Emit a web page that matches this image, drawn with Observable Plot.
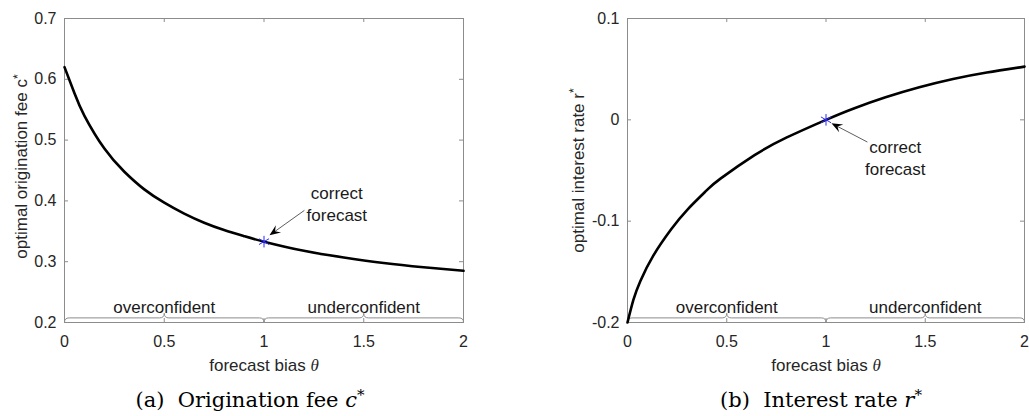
<!DOCTYPE html>
<html><head><meta charset="utf-8">
<script src="https://cdn.jsdelivr.net/npm/d3@7"></script>
<script src="https://cdn.jsdelivr.net/npm/@observablehq/plot@0.6"></script>
<style>
body{margin:0;background:#fff;}
#wrap{position:relative;width:1029px;height:416px;overflow:hidden;background:#fff;}
.panel{position:absolute;top:0;}
.cap{position:absolute;top:388px;font-family:"DejaVu Serif",serif;font-size:21px;line-height:25px;color:#000;white-space:nowrap;transform:translateX(-50%);}
.cap .sup{font-size:0.72em;position:relative;top:-0.45em;}
</style></head><body>
<div id="wrap">
  <div class="panel" id="pa" style="left:0"></div>
  <div class="panel" id="pb" style="left:514px"></div>
  <div class="cap" style="left:250px">(a)&nbsp; Origination fee <i>c</i><span class="sup">*</span></div>
  <div class="cap" style="left:821px">(b)&nbsp; Interest rate <i>r</i><span class="sup">*</span></div>
</div>
<script>
// ---- data ----
const thetaA = [0, 0.05, 0.1, 0.2, 0.3, 0.4, 0.5, 0.6, 0.7, 0.8, 0.9, 1.0, 1.2, 1.4, 1.6, 1.8, 2.0];
const feeC   = [0.620, 0.577, 0.540, 0.486, 0.448, 0.419, 0.397, 0.379, 0.364, 0.352, 0.342, 0.333, 0.318, 0.307, 0.298, 0.291, 0.285];
const thetaB = [0, 0.03, 0.065, 0.13, 0.22, 0.3, 0.4, 0.47, 0.64, 0.8, 1.0, 1.14, 1.3, 1.47, 1.64, 1.81, 2.0];
const rateR  = [-0.200, -0.1775, -0.159, -0.134, -0.108, -0.089, -0.0694, -0.0578, -0.0349, -0.0176, 0.000, 0.0112, 0.0222, 0.0321, 0.0403, 0.0467, 0.0525];

const xTicks = [0, 0.5, 1, 1.5, 2];
const xTickLabels = ["0", "0.5", "1", "1.5", "2"];
const yTicksA = [0.2, 0.3, 0.4, 0.5, 0.6, 0.7];
const yTickLabelsA = ["0.2", "0.3", "0.4", "0.5", "0.6", "0.7"];
const yTicksB = [-0.2, -0.1, 0, 0.1];
const yTickLabelsB = ["-0.2", "-0.1", "0", "0.1"];

const braceSpans = [[0, 1], [1, 2]];
const braceLabels = ["overconfident", "underconfident"];
const correctTheta = 1;
const noteText = "correct\nforecast";
// annotation anchors (data units): text centre, arrow tail, arrow tip
const noteA = [1.365, 0.397], tailA = [1.205, 0.3836], tipA = [1.03, 0.3426];
const noteB = [1.349, -0.0367], tailB = [1.211, -0.0224], tipB = [1.03, -0.0039];

const xLabel = "forecast bias θ";
const yLabelA = "optimal origination fee c*";
const yLabelB = "optimal interest rate r*";

// ---- drawing ----
const grey = "#8c8c8c";
const sans = "'Liberation Sans', Arial, sans-serif";
function lookup(vals, labels) { const m = new Map(vals.map((v, i) => [v, labels[i]])); return d => m.get(d); }

function panel(o) {
  const H = 380, mt = 18, mb = 58;
  const innerH = H - mt - mb, innerW = o.width - o.ml - o.mr;
  const tick = 4;
  const data = o.xs.map((x, i) => ({x, y: o.ys[i]}));
  const starY = o.ys[o.xs.indexOf(correctTheta)];
  const innerX = xTicks.slice(1, -1);
  const innerY = o.yTicks.slice(1, -1);
  const yMin = o.yTicks[0];

  const braces = (index, scales) => {
    const g = d3.create("svg:g").attr("fill", "none").attr("stroke", grey).attr("stroke-width", 1);
    const yb = scales.y(yMin) + 0.5, q = 4.6;
    braceSpans.forEach(([a, b]) => {
      const x0 = scales.x(a) + 0.5, x1 = scales.x(b) + 0.5, xm = (x0 + x1) / 2;
      g.append("path").attr("d",
        `M${x0},${yb}Q${x0},${yb - q} ${x0 + q},${yb - q}L${xm - q},${yb - q}Q${xm},${yb - q} ${xm},${yb - 2 * q}` +
        `Q${xm},${yb - q} ${xm + q},${yb - q}L${x1 - q},${yb - q}Q${x1},${yb - q} ${x1},${yb}`);
    });
    return g.node();
  };

  const arrow = (index, scales) => {
    const g = d3.create("svg:g");
    const tx = scales.x(o.tail[0]), ty = scales.y(o.tail[1]);
    const hx = scales.x(o.tip[0]), hy = scales.y(o.tip[1]);
    const dx = hx - tx, dy = hy - ty, len = Math.hypot(dx, dy);
    const ux = dx / len, uy = dy / len, nx = -uy, ny = ux;
    const L = 11, w = 4.5;
    g.append("line").attr("x1", tx).attr("y1", ty).attr("x2", hx - 0.6 * L * ux).attr("y2", hy - 0.6 * L * uy)
      .attr("stroke", "#333").attr("stroke-width", 0.8);
    g.append("path").attr("fill", "#000").attr("d",
      `M${hx},${hy}L${hx - L * ux + w * nx},${hy - L * uy + w * ny}L${hx - 0.62 * L * ux},${hy - 0.62 * L * uy}L${hx - L * ux - w * nx},${hy - L * uy - w * ny}Z`);
    return g.node();
  };

  const svg = Plot.plot({
    width: o.width, height: H, marginTop: mt, marginBottom: mb, marginLeft: o.ml, marginRight: o.mr,
    style: {fontFamily: sans, fontSize: "16px", color: "#262626", background: "white", overflow: "visible"},
    x: {domain: [0, 2]},
    y: {domain: [o.yTicks[0], o.yTicks[o.yTicks.length - 1]]},
    marks: [
      Plot.axisX(xTicks, {tickSize: 0, tickPadding: 13, tickFormat: lookup(xTicks, xTickLabels), label: null, fontFamily: sans}),
      Plot.axisY(o.yTicks, {tickSize: 0, tickPadding: 8, tickFormat: lookup(o.yTicks, o.yLabels), label: null, fontFamily: sans}),
      Plot.ruleX(innerX, {insetTop: innerH - tick, stroke: grey}),
      Plot.ruleX(innerX, {insetBottom: innerH - tick, stroke: grey}),
      Plot.ruleY(innerY, {insetRight: innerW - tick, stroke: grey}),
      Plot.ruleY(innerY, {insetLeft: innerW - tick, stroke: grey}),
      Plot.frame({stroke: grey}),
      braces,
      Plot.text(braceSpans, {x: d => (d[0] + d[1]) / 2, frameAnchor: "bottom", lineAnchor: "middle", dy: -15, text: (d, i) => braceLabels[i], fontSize: 17, fontFamily: sans, fill: "#1a1a1a"}),
      Plot.line(data, {x: "x", y: "y", curve: "natural", stroke: "black", strokeWidth: 2.6}),
      Plot.dot([{x: correctTheta, y: starY}], {x: "x", y: "y", symbol: "asterisk", r: 5.5, stroke: "#2a2aff", strokeWidth: 1}),
      arrow,
      Plot.text([o.note], {x: d => d[0], y: d => d[1], text: () => noteText, lineHeight: 1.3, fontSize: 17, fontFamily: sans, fill: "#1a1a1a"}),
      Plot.text([xLabel], {frameAnchor: "bottom", textAnchor: "middle", lineAnchor: "middle", dy: 43, fontSize: 17, fontFamily: sans, fill: "#262626"}),
      Plot.text([o.ylabel], {frameAnchor: "left", textAnchor: "middle", lineAnchor: "middle", dx: o.ylDx, dy: o.ylDy, rotate: -90, fontSize: 17, fontFamily: sans, fill: "#262626"})
    ]
  });
  decorate(svg);
  return svg;
}

function decorate(svg) {
  const NS = "http://www.w3.org/2000/svg";
  svg.querySelectorAll("text").forEach(t => {
    const s = t.textContent;
    if (t.querySelector("tspan")) return;
    if (s.endsWith("θ")) {
      t.textContent = s.slice(0, -1);
      const sp = document.createElementNS(NS, "tspan");
      sp.setAttribute("font-style", "italic");
      sp.setAttribute("font-family", "'Liberation Serif', serif");
      sp.textContent = "θ";
      t.appendChild(sp);
    } else if (s.endsWith("*")) {
      t.textContent = s.slice(0, -1);
      const sp = document.createElementNS(NS, "tspan");
      sp.setAttribute("dy", "-0.45em");
      sp.setAttribute("font-size", "0.72em");
      sp.textContent = "*";
      t.appendChild(sp);
    }
  });
}

document.getElementById("pa").appendChild(panel({
  xs: thetaA, ys: feeC, yTicks: yTicksA, yLabels: yTickLabelsA, width: 514, ml: 64, mr: 51,
  note: noteA, tail: tailA, tip: tipA, ylabel: yLabelA, ylDx: -42.5, ylDy: -4
}));
document.getElementById("pb").appendChild(panel({
  xs: thetaB, ys: rateR, yTicks: yTicksB, yLabels: yTickLabelsB, width: 515, ml: 113, mr: 5,
  note: noteB, tail: tailB, tip: tipB, ylabel: yLabelB, ylDx: -49, ylDy: 0
}));
</script>
</body></html>
